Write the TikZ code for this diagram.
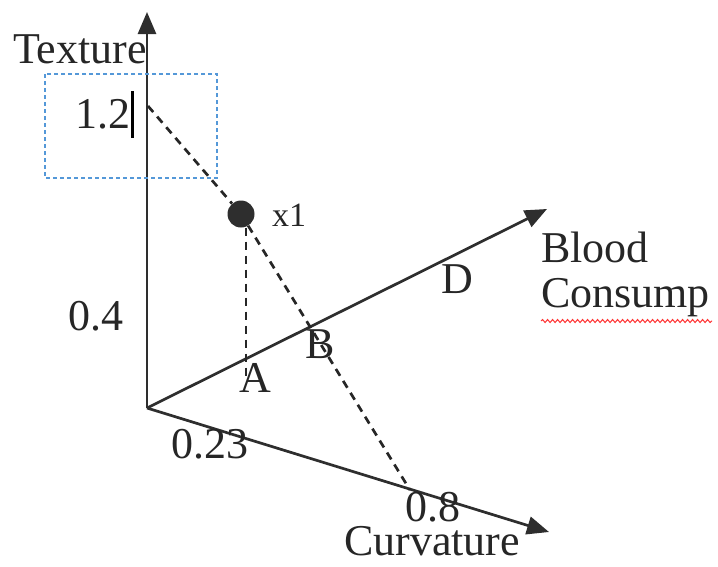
\documentclass[tikz,border=0pt]{standalone}
\usepackage{fontspec}
\setmainfont{Liberation Serif}
\usetikzlibrary{arrows.meta,decorations.pathmorphing}
\tikzset{
  axis/.style={line width=2.7pt, draw=black!82, -{Triangle[length=22pt,width=18pt]}},
  guide/.style={line width=2.7pt, draw=black!85, dash pattern=on 8pt off 6pt},
  lbl/.style={font=\fontsize{44}{50}\selectfont, text=black!85, inner sep=0pt, anchor=base},
  small/.style={font=\fontsize{34}{38}\selectfont, text=black!85, inner sep=0pt, anchor=base west},
  selbox/.style={draw=cyan!60!blue!70, line width=1.2pt, dash pattern=on 4pt off 3pt},
  cursor/.style={line width=3pt, draw=black}
}
\begin{document}
\begin{tikzpicture}[x=1pt,y=-1pt]
\useasboundingbox (0,0) rectangle (718,566);
% axes
\coordinate (o) at (147,408);
\coordinate (ytip) at (147,12);
\coordinate (btip) at (547,209);
\coordinate (ctip) at (549,532);
\draw[axis] (o) -- (ytip);
\draw[axis] (o) -- (btip);
\draw[axis] (o) -- (ctip);
% selection box and cursor
\draw[selbox] (45,74) rectangle (217,178);
\coordinate (cur1) at (132,91);
\coordinate (cur2) at (132,138);
\draw[cursor] (cur1) -- (cur2);
% point and guides
\node[circle, fill=black!82, minimum size=27pt, inner sep=0pt] (x1) at (241,214) {};
\coordinate (t12) at (148,106);
\coordinate (c08) at (410,490);
\coordinate (afoot) at (246,377);
\draw[guide] (t12) -- (x1);
\draw[guide] (x1) -- (c08);
\draw[guide] (afoot |- x1.south) -- (afoot);
% labels
\node[lbl] (ltex) at (80,63) {Texture};
\node[lbl] (l12) at (103,128) {1.2};
\node[lbl] (l04) at (96,330) {0.4};
\node[lbl] (l023) at (210,458) {0.23};
\node[lbl] (lA) at (255,392) {A};
\node[lbl] (lB) at (320,358) {B};
\node[small] (lx1) at (272,226) {x1};
\node[lbl] (lD) at (457,293) {D};
\node[lbl, anchor=base west] (lblood) at (541,262) {Blood};
\node[lbl, anchor=base west] (lcons) at (541,307) {Consump};
\node[lbl] (l08) at (433,521) {0.8};
\node[lbl] (lcurv) at (432,555) {Curvature};
% spelling underline
\coordinate (w1) at (541,321);
\coordinate (w2) at (712,321);
\draw[red!80, line width=1pt, decorate, decoration={snake, segment length=5pt, amplitude=1.5pt}] (w1) -- (w2);
\end{tikzpicture}
\end{document}
